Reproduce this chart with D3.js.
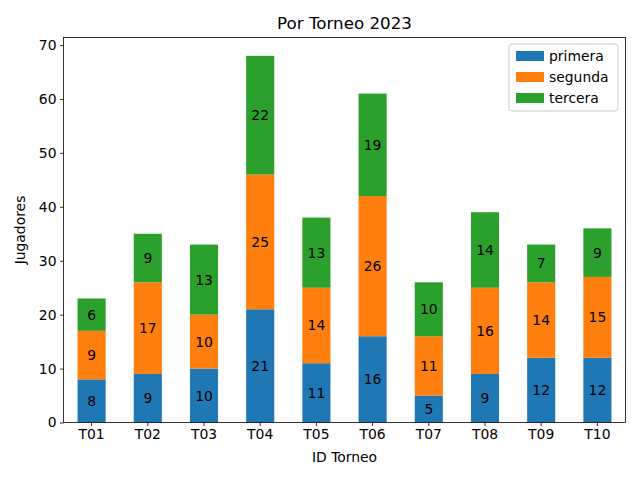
<!DOCTYPE html>
<html><head><meta charset="utf-8">
<script src="https://cdn.jsdelivr.net/npm/d3@7"></script>
<style>body{margin:0;background:#fff}svg{display:block;font-family:"DejaVu Sans",sans-serif}</style>
</head><body>
<svg id="c" width="640" height="480"></svg>
<script>
const categories = ["T01","T02","T03","T04","T05","T06","T07","T08","T09","T10"];
const seriesNames = ["primera","segunda","tercera"];
const primera = [8,9,10,21,11,16,5,9,12,12];
const segunda = [9,17,10,25,14,26,11,16,14,15];
const tercera = [6,9,13,22,13,19,10,14,7,9];
const yTicks = [0,10,20,30,40,50,60,70];
const colors = ["#1f77b4","#ff7f0e","#2ca02c"];

const svg = d3.select("#c");
const L=63.5, R=625.5, T=37.5, B=422.5;
const FS = 13.9;
const rows = categories.map((c,i)=>({cat:c, primera:primera[i], segunda:segunda[i], tercera:tercera[i]}));
const stack = d3.stack().keys(seriesNames)(rows);
const maxV = d3.max(rows, d=>d.primera+d.segunda+d.tercera);
const y = d3.scaleLinear().domain([0, maxV*1.05]).range([B,T]);
const x = d3.scaleBand().domain(categories).range([L,R]).paddingInner(0.5).paddingOuter(0.25);

stack.forEach((s,si)=>{
  const g = svg.append("g");
  g.selectAll("rect").data(s).enter().append("rect")
    .attr("x", d=>x(d.data.cat)).attr("width", x.bandwidth())
    .attr("y", d=>y(d[1])).attr("height", d=>y(d[0])-y(d[1]))
    .attr("fill", colors[si]);
  g.selectAll("text").data(s).enter().append("text")
    .attr("x", d=>x(d.data.cat)+x.bandwidth()/2)
    .attr("y", d=>(y(d[0])+y(d[1]))/2)
    .attr("text-anchor","middle").attr("dominant-baseline","central")
    .attr("font-size",FS).attr("fill","#000")
    .text(d=>d[1]-d[0]);
});

svg.append("rect").attr("x",L).attr("y",T).attr("width",R-L).attr("height",B-T)
  .attr("fill","none").attr("stroke","#000").attr("stroke-width",0.8);

const yAxis = svg.append("g").attr("transform",`translate(${L},0)`)
  .call(d3.axisLeft(y).tickValues(yTicks).tickSize(3.5).tickPadding(3.5));
const xAxis = svg.append("g").attr("transform",`translate(0,${B})`)
  .call(d3.axisBottom(x).tickSize(3.5).tickPadding(3.5));
[yAxis,xAxis].forEach(a=>{
  a.select(".domain").remove();
  a.selectAll("line").attr("stroke","#000").attr("stroke-width",0.8);
  a.selectAll("text").attr("font-size",FS).attr("fill","#000").attr("font-family","DejaVu Sans");
});

svg.append("text").attr("x",(L+R)/2).attr("y",29).attr("text-anchor","middle")
  .attr("font-size",16.7).text("Por Torneo 2023");
svg.append("text").attr("x",(L+R)/2).attr("y",462).attr("text-anchor","middle")
  .attr("font-size",FS).text("ID Torneo");
svg.append("text").attr("transform",`translate(25,${(T+B)/2}) rotate(-90)`).attr("text-anchor","middle")
  .attr("font-size",FS).text("Jugadores");

const lg = svg.append("g").attr("transform","translate(509,44)");
lg.append("rect").attr("width",109).attr("height",67).attr("rx",3)
  .attr("fill","#fff").attr("fill-opacity",0.8).attr("stroke","#ccc");
seriesNames.forEach((n,i)=>{
  lg.append("rect").attr("x",7).attr("y",7+i*21).attr("width",28).attr("height",10).attr("fill",colors[i]);
  lg.append("text").attr("x",40).attr("y",12+i*21).attr("dominant-baseline","central")
    .attr("font-size",FS).text(n);
});
</script>
</body></html>
